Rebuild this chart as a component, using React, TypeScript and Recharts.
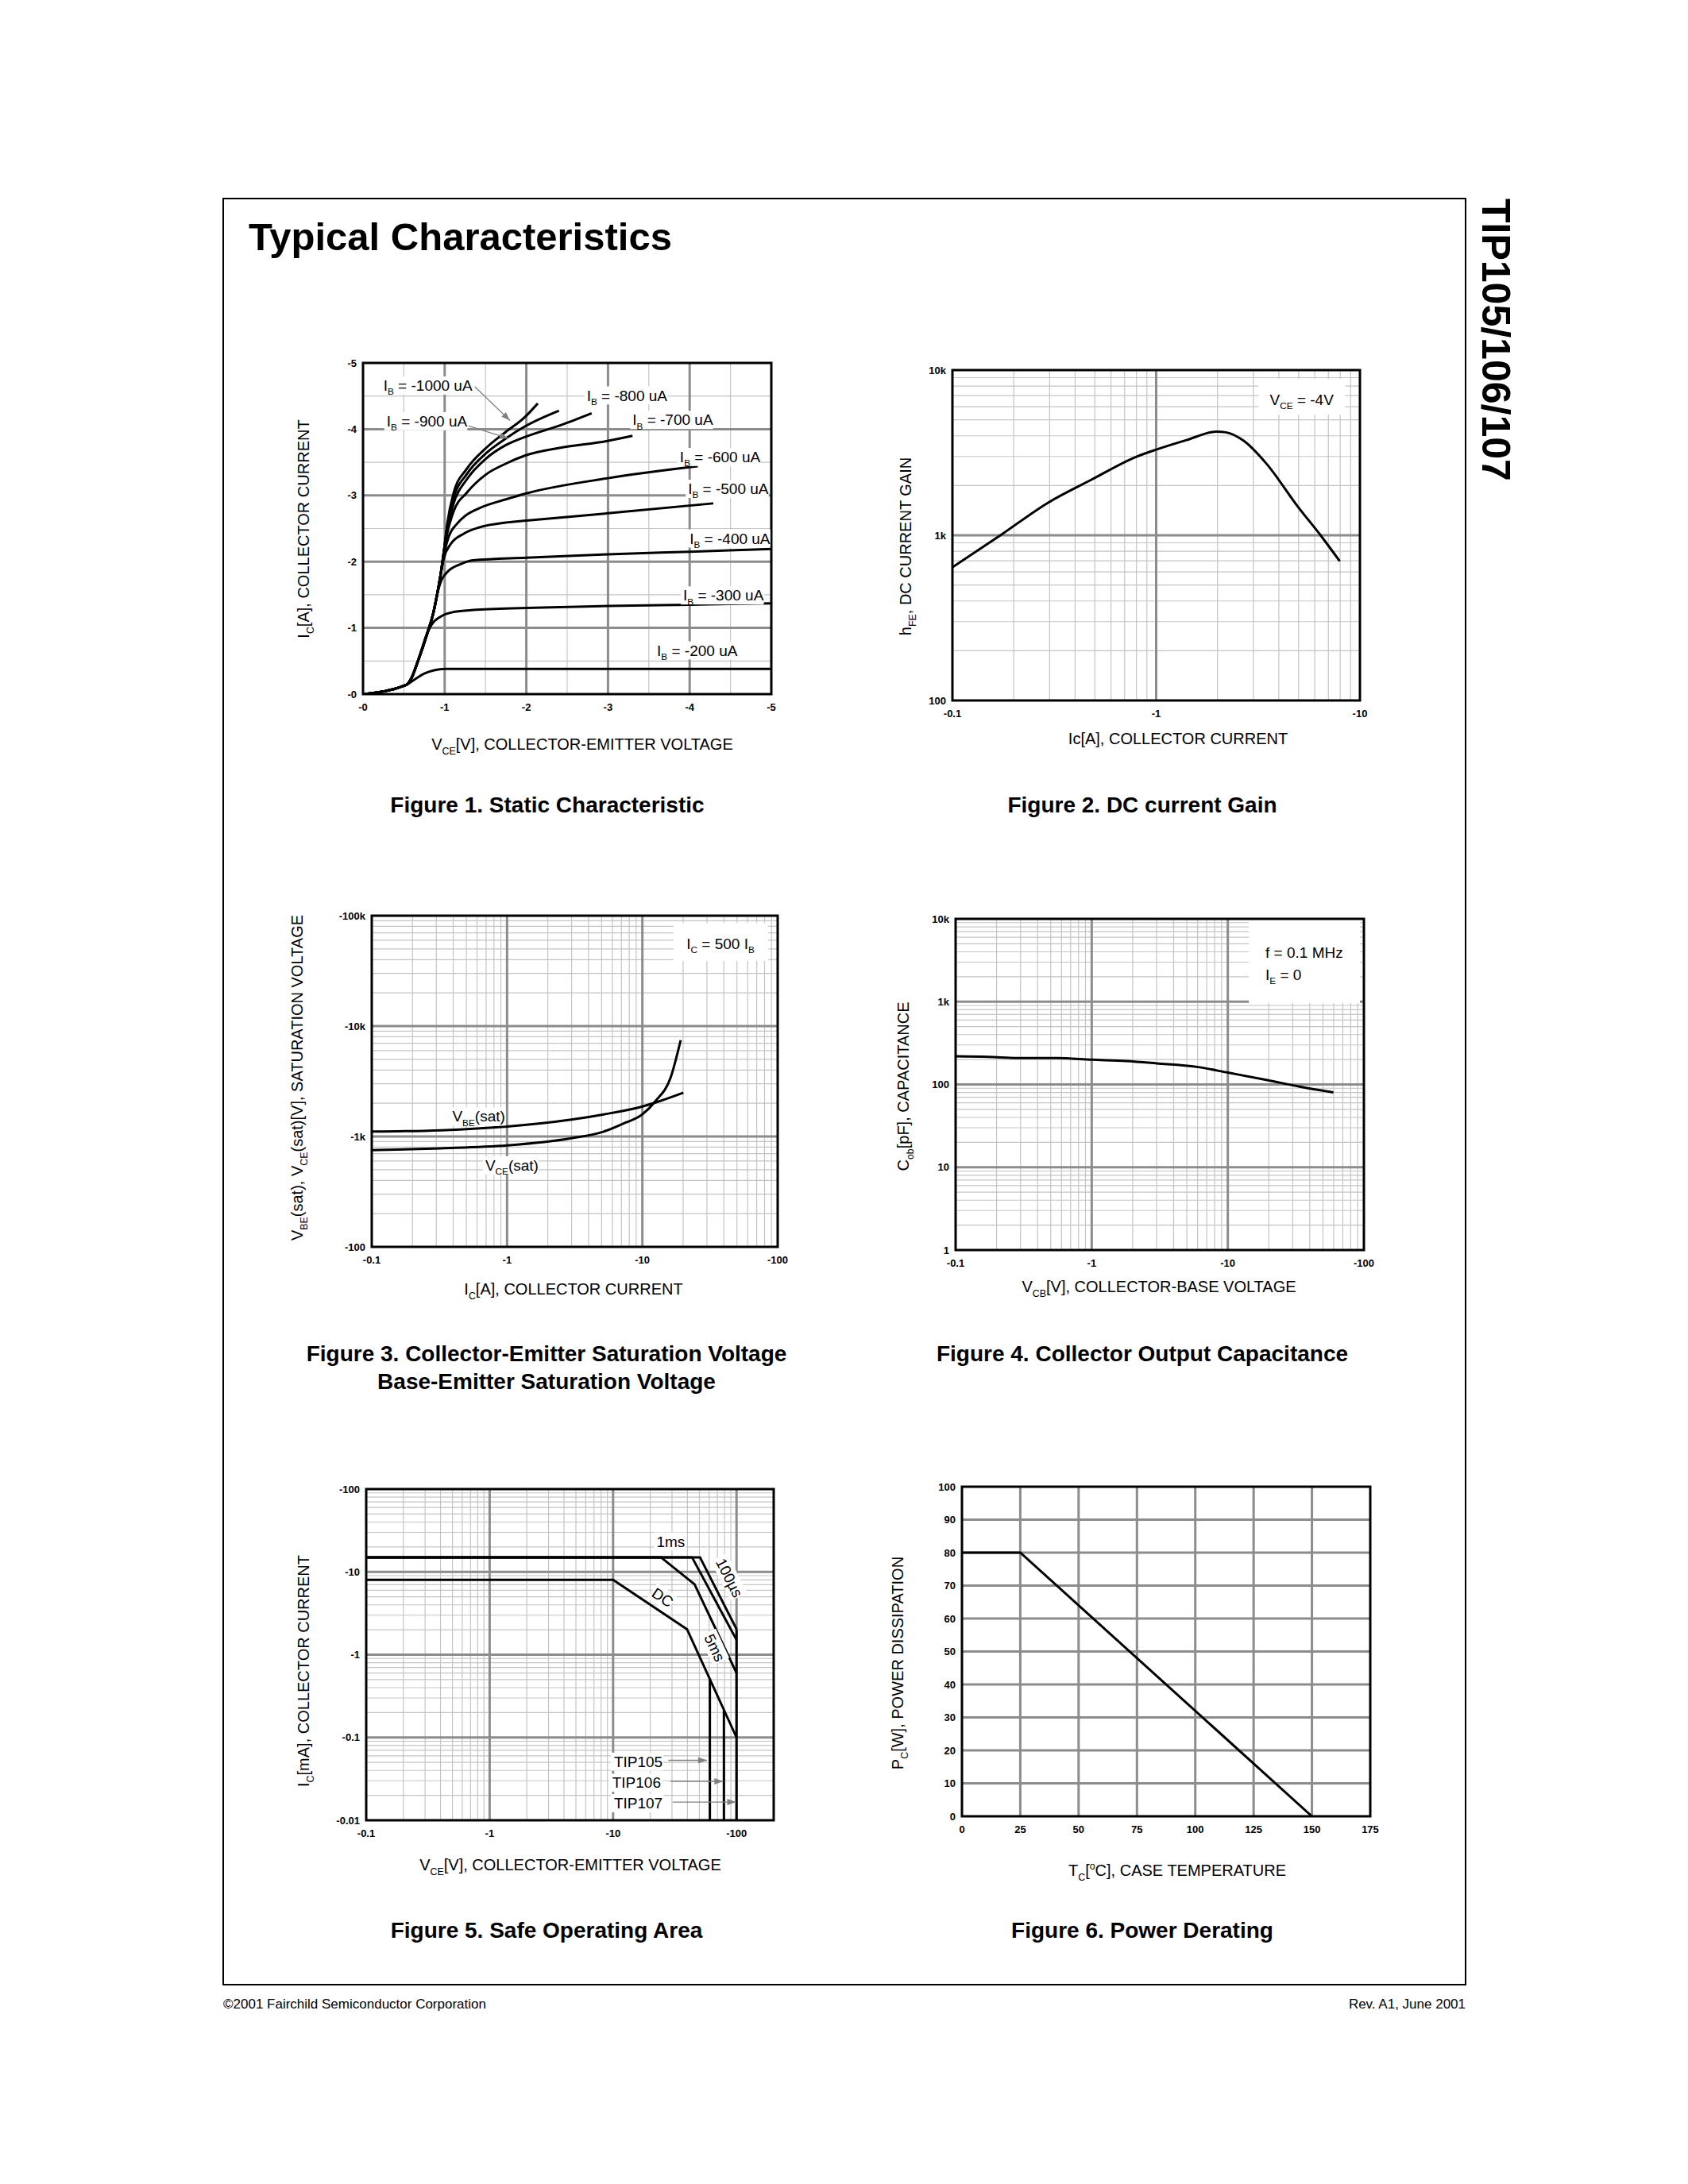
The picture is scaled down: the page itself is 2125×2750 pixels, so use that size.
import React from "react";
import {
  LineChart,
  Line,
  XAxis,
  YAxis,
  CartesianGrid,
  ReferenceLine,
  ReferenceDot,
  ReferenceArea,
} from "recharts";

const FONT = "'Liberation Sans', Arial, Helvetica, sans-serif";
const MAJOR = "#8c8c8c";
const MINOR = "#c4c4c4";

type Pt = [number, number];
const pts = (a: Pt[]) => a.map(([x, y]) => ({ x, y }));

// ---------- Figure 1: static characteristic, IC[A] vs VCE[V]
const ib200: Pt[] = [[0, 0], [0.53, 0.14], [0.63, 0.22], [0.75, 0.31], [0.87, 0.36], [1.0, 0.38], [1.6, 0.38], [5, 0.38]];
const ib300: Pt[] = [[0, 0], [0.53, 0.14], [0.6, 0.26], [0.67, 0.49], [0.79, 0.93], [0.84, 1.05], [0.95, 1.17], [1.11, 1.24], [1.35, 1.27], [2, 1.3], [3, 1.33], [4, 1.35], [5, 1.37]];
const ib400: Pt[] = [[0, 0], [0.53, 0.14], [0.6, 0.26], [0.67, 0.49], [0.79, 0.93], [0.86, 1.22], [0.91, 1.52], [0.96, 1.72], [1.03, 1.84], [1.19, 1.96], [1.35, 2.02], [2, 2.06], [3, 2.11], [4, 2.15], [5, 2.19]];
const ib500: Pt[] = [[0, 0], [0.53, 0.14], [0.6, 0.26], [0.67, 0.49], [0.79, 0.93], [0.86, 1.22], [0.91, 1.52], [0.95, 1.8], [0.99, 2.05], [1.07, 2.26], [1.23, 2.42], [1.43, 2.52], [1.75, 2.59], [2, 2.62], [3, 2.73], [4.29, 2.88]];
const ib600: Pt[] = [[0, 0], [0.53, 0.14], [0.6, 0.26], [0.67, 0.49], [0.79, 0.93], [0.86, 1.22], [0.91, 1.52], [0.95, 1.8], [0.99, 2.1], [1.05, 2.38], [1.15, 2.57], [1.25, 2.69], [1.43, 2.81], [1.75, 2.94], [2, 3.03], [3, 3.26], [4.1, 3.44]];
const ib700: Pt[] = [[0, 0], [0.53, 0.14], [0.6, 0.26], [0.67, 0.49], [0.79, 0.93], [0.86, 1.22], [0.91, 1.52], [0.95, 1.8], [0.99, 2.15], [1.03, 2.42], [1.11, 2.76], [1.27, 3.04], [1.51, 3.32], [1.75, 3.48], [1.98, 3.6], [2.42, 3.72], [2.98, 3.82], [3.3, 3.9]];
const ib800: Pt[] = [[0, 0], [0.53, 0.14], [0.6, 0.26], [0.67, 0.49], [0.79, 0.93], [0.86, 1.22], [0.91, 1.52], [0.95, 1.8], [0.99, 2.15], [1.03, 2.48], [1.11, 2.88], [1.27, 3.24], [1.51, 3.56], [1.75, 3.76], [1.98, 3.88], [2.42, 4.06], [2.8, 4.24]];
const ib900: Pt[] = [[0, 0], [0.53, 0.14], [0.6, 0.26], [0.67, 0.49], [0.79, 0.93], [0.86, 1.22], [0.91, 1.52], [0.95, 1.8], [0.99, 2.15], [1.03, 2.52], [1.11, 2.96], [1.27, 3.32], [1.51, 3.64], [1.75, 3.86], [1.98, 4.04], [2.4, 4.28]];
const ib1000: Pt[] = [[0, 0], [0.53, 0.14], [0.6, 0.26], [0.67, 0.49], [0.79, 0.93], [0.86, 1.22], [0.91, 1.52], [0.95, 1.8], [0.99, 2.15], [1.03, 2.56], [1.11, 3.04], [1.27, 3.4], [1.51, 3.72], [1.75, 3.96], [1.98, 4.18], [2.14, 4.39]];
const f1Series = [ib200, ib300, ib400, ib500, ib600, ib700, ib800, ib900, ib1000];
const f1Ticks = [0, 1, 2, 3, 4, 5];
const f1Labels = ["-0", "-1", "-2", "-3", "-4", "-5"];
const f1Minor = [0.5, 1.5, 2.5, 3.5, 4.5];
const f1Major = [1, 2, 3, 4];
const f1Notes = [
  { x: 0.25, y: 4.66, ib: "-1000" },
  { x: 0.29, y: 4.12, ib: "-900" },
  { x: 2.74, y: 4.51, ib: "-800" },
  { x: 3.3, y: 4.14, ib: "-700" },
  { x: 3.88, y: 3.58, ib: "-600" },
  { x: 3.98, y: 3.1, ib: "-500" },
  { x: 4.0, y: 2.35, ib: "-400" },
  { x: 3.92, y: 1.49, ib: "-300" },
  { x: 3.6, y: 0.66, ib: "-200" },
];
const f1Arrows = [
  { from: [1.37, 4.64], to: [1.8, 4.13], a: 44 },
  { from: [1.29, 4.05], to: [1.78, 3.86], a: 18 },
];

// ---------- Figure 2: DC current gain
const hfe: Pt[] = [[0.1, 640], [0.172, 1000], [0.296, 1580], [0.481, 2170], [0.8, 2990], [1.0, 3300], [1.41, 3770], [1.98, 4240], [2.2, 4200], [2.69, 3730], [3.47, 2720], [4.98, 1480], [6.41, 1000], [7.96, 697]];
const f2XTicks = [0.1, 1, 10];
const f2XLabels = ["-0.1", "-1", "-10"];
const f2YTicks = [100, 1000, 10000];
const f2YLabels = ["100", "1k", "10k"];

// ---------- Figure 3: saturation voltages [mV]
const vbeSat: Pt[] = [[0.1, 1107], [0.325, 1138], [1, 1230], [2.98, 1420], [5.18, 1585], [10, 1870], [12.5, 2032], [20.1, 2495]];
const vceSat: Pt[] = [[0.1, 752], [0.325, 781], [1, 830], [2.98, 963], [5.18, 1107], [7.2, 1306], [10, 1585], [12.5, 2090], [16.2, 3436], [19.2, 7450]];
const f3XTicks = [0.1, 1, 10, 100];
const f3XLabels = ["-0.1", "-1", "-10", "-100"];
const f3YTicks = [100, 1000, 10000, 100000];
const f3YLabels = ["-100", "-1k", "-10k", "-100k"];

// ---------- Figure 4: output capacitance
const cob: Pt[] = [[0.1, 219], [0.172, 216], [0.297, 208], [0.555, 208], [1, 199], [1.79, 192], [3, 180], [5.93, 163], [10, 139], [19.5, 113], [33.7, 94], [59.7, 80]];
const f4YTicks = [1, 10, 100, 1000, 10000];
const f4YLabels = ["1", "10", "100", "1k", "10k"];

// ---------- Figure 5: safe operating area
const soa100us: Pt[] = [[0.1, 15], [50.6, 15], [100, 2.03]];
const soa1ms: Pt[] = [[0.1, 15], [43.6, 15], [100, 1.51]];
const soa5ms: Pt[] = [[0.1, 15], [24.4, 15], [45.7, 7.08], [100, 0.6]];
const soaDc: Pt[] = [[0.1, 8], [10, 8], [39.7, 2.03], [100, 0.1]];
const tip105: Pt[] = [[60.8, 0.51], [60.8, 0.01]];
const tip106: Pt[] = [[79, 0.21], [79, 0.01]];
const tip107: Pt[] = [[100, 2.03], [100, 0.01]];
const f5XTicks = [0.1, 1, 10, 100];
const f5XLabels = ["-0.1", "-1", "-10", "-100"];
const f5YTicks = [0.01, 0.1, 1, 10, 100];
const f5YLabels = ["-0.01", "-0.1", "-1", "-10", "-100"];
const f5Arrows = [
  { from: [28, 0.053], to: [57.5, 0.053], a: 0 },
  { from: [29.2, 0.0295], to: [77.9, 0.0295], a: 0 },
  { from: [30.4, 0.0166], to: [99, 0.0166], a: 0 },
];

// ---------- Figure 6: power derating
const derating: Pt[] = [[0, 80], [25, 80], [150, 0]];
const f6XTicks = [0, 25, 50, 75, 100, 125, 150, 175];
const f6YTicks = [0, 10, 20, 30, 40, 50, 60, 70, 80, 90, 100];
const f6XGrid = [25, 50, 75, 100, 125, 150];
const f6YGrid = [10, 20, 30, 40, 50, 60, 70, 80, 90];

const minors = (lo: number, hi: number) => {
  const out: number[] = [];
  for (let d = lo; d < hi * 0.999; d *= 10)
    for (let k = 2; k <= 9; k++) out.push(+(d * k).toPrecision(6));
  return out;
};

// rough Arial advance widths (em), only used to size the white label boxes
const charW = (c: string) => {
  if (/[0-9]/.test(c)) return 0.556;
  if (c === " ") return 0.278;
  if (c === "=") return 0.584;
  if (c === "-") return 0.333;
  if (".,:;ilIj|".includes(c)) return 0.26;
  if ("()[]ft".includes(c)) return 0.31;
  if (c === "m" || c === "M") return 0.833;
  if (/[A-Z]/.test(c)) return 0.67;
  return 0.53;
};

// ---------- drawing helpers
type Part = [string, ("sub" | "sup")?];
type NoteProps = {
  cx?: number;
  cy?: number;
  parts: Part[];
  anchor?: "start" | "middle" | "end";
  size?: number;
  box?: boolean;
  angle?: number;
  bold?: boolean;
  color?: string;
};

function Note({ cx = 0, cy = 0, parts, anchor = "start", size = 19, box = false, angle = 0, bold = false, color = "#000" }: NoteProps) {
  const w = parts.reduce(
    (s, [t, m]) => s + t.split("").reduce((a, c) => a + charW(c), 0) * size * (m ? 0.62 : 1),
    0
  );
  const left = anchor === "start" ? cx : anchor === "end" ? cx - w : cx - w / 2;
  let off = 0;
  const spans = parts.map(([t, m], i) => {
    const target = m === "sub" ? size * 0.28 : m === "sup" ? -size * 0.42 : 0;
    const dy = target - off;
    off = target;
    return (
      <tspan key={i} dy={dy} fontSize={m ? size * 0.62 : size}>
        {t}
      </tspan>
    );
  });
  return (
    <g transform={angle ? `rotate(${angle} ${cx} ${cy})` : undefined}>
      {box && <rect x={left - 3} y={cy - size * 0.6} width={w + 4} height={size * 1.2} fill="#fff" />}
      <text
        x={cx}
        y={cy + size * 0.35}
        textAnchor={anchor}
        fontFamily={FONT}
        fontSize={size}
        fontWeight={bold ? 700 : 400}
        fill={color}
        style={{ whiteSpace: "pre" }}
      >
        {spans}
      </text>
    </g>
  );
}

const PL = 90;
const PT = 20;
const PR = 20;
const PB = 50;
type Box = { x: number; y: number; w: number; h: number };

function Panel({ box, children }: { box: Box; children: React.ReactNode }) {
  return (
    <div style={{ position: "absolute", left: box.x - PL, top: box.y - PT }}>
      <LineChart
        width={box.w + PL + PR}
        height={box.h + PT + PB}
        margin={{ top: PT, right: PR, bottom: 0, left: 0 }}
      >
        {children}
      </LineChart>
    </div>
  );
}

const TICK = { fontSize: 13, fontWeight: 700, fill: "#000", fontFamily: FONT };
const fmt = (ticks: number[], labels: string[]) => (v: number) => {
  const i = ticks.findIndex((t) => Math.abs(t - v) < t * 1e-6 + 1e-9);
  return i >= 0 ? labels[i] : "";
};

const xAxis = (domain: number[], ticks: number[], labels: string[], log: boolean) => (
  <XAxis
    key="xa"
    dataKey="x"
    type="number"
    scale={log ? "log" : "linear"}
    domain={domain}
    ticks={ticks}
    interval={0}
    tickFormatter={fmt(ticks, labels)}
    allowDataOverflow
    axisLine={false}
    tickLine={false}
    tickSize={0}
    tickMargin={12}
    height={PB}
    tick={TICK}
  />
);

const yAxis = (domain: number[], ticks: number[], labels: string[], log: boolean) => (
  <YAxis
    key="ya"
    type="number"
    scale={log ? "log" : "linear"}
    domain={domain}
    ticks={ticks}
    interval={0}
    tickFormatter={fmt(ticks, labels)}
    allowDataOverflow
    axisLine={false}
    tickLine={false}
    tickSize={0}
    tickMargin={8}
    width={PL}
    tick={TICK}
  />
);

const grid = (key: string, xs: number[], ys: number[], color: string, width: number) => (
  <CartesianGrid
    key={key}
    vertical={xs.length > 0}
    horizontal={ys.length > 0}
    verticalValues={xs}
    horizontalValues={ys}
    stroke={color}
    strokeWidth={width}
  />
);

const curve = (key: string, data: Pt[], type: "monotone" | "linear" = "monotone") => (
  <Line
    key={key}
    data={pts(data)}
    dataKey="y"
    type={type}
    stroke="#000"
    strokeWidth={3}
    dot={false}
    activeDot={false}
    isAnimationActive={false}
  />
);

const frame = (xd: number[], yd: number[]) => (
  <ReferenceArea
    key="frame"
    x1={xd[0]}
    x2={xd[1]}
    y1={yd[0]}
    y2={yd[1]}
    fill="none"
    stroke="#000"
    strokeWidth={3}
    ifOverflow="visible"
  />
);

const whiteBox = (key: string, x1: number, x2: number, y1: number, y2: number) => (
  <ReferenceArea key={key} x1={x1} x2={x2} y1={y1} y2={y2} fill="#fff" fillOpacity={1} stroke="none" ifOverflow="visible" />
);

const dotNote = (key: string, x: number, y: number, props: NoteProps) => (
  <ReferenceDot
    key={key}
    x={x}
    y={y}
    r={0}
    ifOverflow="visible"
    shape={(s: any) => <Note {...props} cx={s.cx} cy={s.cy} />}
  />
);

const arrow = (key: string, from: number[], to: number[], a: number) => [
  <ReferenceLine
    key={key + "l"}
    segment={[{ x: from[0], y: from[1] }, { x: to[0], y: to[1] }]}
    stroke="#808080"
    strokeWidth={1.3}
    ifOverflow="visible"
  />,
  <ReferenceDot
    key={key + "h"}
    x={to[0]}
    y={to[1]}
    r={0}
    ifOverflow="visible"
    shape={(s: any) => (
      <path d="M0,0 L-11,-4 L-11,4 Z" fill="#808080" transform={`translate(${s.cx},${s.cy}) rotate(${a})`} />
    )}
  />,
];

// ---------- layout
const BOX1: Box = { x: 457, y: 457, w: 514, h: 417 };
const BOX2: Box = { x: 1199, y: 466, w: 513, h: 416 };
const BOX3: Box = { x: 468, y: 1153, w: 511, h: 417 };
const BOX4: Box = { x: 1203, y: 1157, w: 514, h: 417 };
const BOX5: Box = { x: 461, y: 1875, w: 513, h: 417 };
const BOX6: Box = { x: 1211, y: 1872, w: 514, h: 415 };

export default function App() {
  return (
    <div
      style={{
        position: "absolute",
        left: 0,
        top: 0,
        width: 2125,
        height: 2750,
        background: "#fff",
        fontFamily: FONT,
        overflow: "hidden",
      }}
    >
      <svg width={2125} height={2750} style={{ position: "absolute", left: 0, top: 0 }}>
        <rect x={281} y={250} width={1564} height={2249} fill="none" stroke="#000" strokeWidth={2} />
        <Note cx={313} cy={298} parts={[["Typical Characteristics"]]} size={49} bold />
        <Note cx={1883} cy={250} parts={[["TIP105/106/107"]]} size={50} bold angle={90} />
        <Note cx={281} cy={2523} parts={[["©2001 Fairchild Semiconductor Corporation"]]} size={17} />
        <Note cx={1845} cy={2523} parts={[["Rev. A1, June 2001"]]} size={17} anchor="end" />

        <Note cx={689} cy={1013} parts={[["Figure 1. Static Characteristic"]]} size={28} bold anchor="middle" />
        <Note cx={1438} cy={1013} parts={[["Figure 2. DC current Gain"]]} size={28} bold anchor="middle" />
        <Note cx={688} cy={1704} parts={[["Figure 3. Collector-Emitter Saturation Voltage"]]} size={28} bold anchor="middle" />
        <Note cx={688} cy={1739} parts={[["Base-Emitter Saturation Voltage"]]} size={28} bold anchor="middle" />
        <Note cx={1438} cy={1704} parts={[["Figure 4. Collector Output Capacitance"]]} size={28} bold anchor="middle" />
        <Note cx={688} cy={2430} parts={[["Figure 5. Safe Operating Area"]]} size={28} bold anchor="middle" />
        <Note cx={1438} cy={2430} parts={[["Figure 6. Power Derating"]]} size={28} bold anchor="middle" />

        <Note cx={382} cy={666} angle={-90} anchor="middle" size={20} parts={[["I"], ["C", "sub"], ["[A], COLLECTOR CURRENT"]]} />
        <Note cx={733} cy={937} anchor="middle" size={20} parts={[["V"], ["CE", "sub"], ["[V], COLLECTOR-EMITTER VOLTAGE"]]} />
        <Note cx={1140} cy={688} angle={-90} anchor="middle" size={20} parts={[["h"], ["FE", "sub"], [", DC CURRENT GAIN"]]} />
        <Note cx={1483} cy={930} anchor="middle" size={20} parts={[["Ic[A], COLLECTOR CURRENT"]]} />
        <Note cx={374} cy={1357} angle={-90} anchor="middle" size={20} parts={[["V"], ["BE", "sub"], ["(sat), V"], ["CE", "sub"], ["(sat)[V], SATURATION VOLTAGE"]]} />
        <Note cx={722} cy={1623} anchor="middle" size={20} parts={[["I"], ["C", "sub"], ["[A], COLLECTOR CURRENT"]]} />
        <Note cx={1137} cy={1368} angle={-90} anchor="middle" size={20} parts={[["C"], ["ob", "sub"], ["[pF], CAPACITANCE"]]} />
        <Note cx={1459} cy={1620} anchor="middle" size={20} parts={[["V"], ["CB", "sub"], ["[V], COLLECTOR-BASE VOLTAGE"]]} />
        <Note cx={382} cy={2104} angle={-90} anchor="middle" size={20} parts={[["I"], ["C", "sub"], ["[mA], COLLECTOR CURRENT"]]} />
        <Note cx={718} cy={2348} anchor="middle" size={20} parts={[["V"], ["CE", "sub"], ["[V], COLLECTOR-EMITTER VOLTAGE"]]} />
        <Note cx={1130} cy={2094} angle={-90} anchor="middle" size={20} parts={[["P"], ["C", "sub"], ["[W], POWER DISSIPATION"]]} />
        <Note cx={1482} cy={2355} anchor="middle" size={20} parts={[["T"], ["C", "sub"], ["["], ["o", "sup"], ["C], CASE TEMPERATURE"]]} />
      </svg>

      {/* Figure 1 */}
      <Panel box={BOX1}>
        {[
          grid("gm", f1Minor, f1Minor, MINOR, 1.2),
          grid("gM", f1Major, f1Major, MAJOR, 3),
          xAxis([0, 5], f1Ticks, f1Labels, false),
          yAxis([0, 5], f1Ticks, f1Labels, false),
          ...f1Series.map((s, i) => curve(`c${i}`, s)),
          ...f1Arrows.flatMap((a, i) => arrow(`a${i}`, a.from, a.to, a.a)),
          ...f1Notes.map((n, i) =>
            dotNote(`n${i}`, n.x, n.y, { parts: [["I"], ["B", "sub"], [` = ${n.ib} uA`]], box: true })
          ),
          frame([0, 5], [0, 5]),
        ]}
      </Panel>

      {/* Figure 2 */}
      <Panel box={BOX2}>
        {[
          grid("gm", minors(0.1, 10), minors(100, 10000), MINOR, 1.2),
          grid("gM", [1], [1000], MAJOR, 3),
          xAxis([0.1, 10], f2XTicks, f2XLabels, true),
          yAxis([100, 10000], f2YTicks, f2YLabels, true),
          whiteBox("wb", 3.18, 8.47, 5380, 8850),
          curve("hfe", hfe),
          dotNote("n", 5.18, 6640, { parts: [["V"], ["CE", "sub"], [" = -4V"]], anchor: "middle" }),
          frame([0.1, 10], [100, 10000]),
        ]}
      </Panel>

      {/* Figure 3 */}
      <Panel box={BOX3}>
        {[
          grid("gm", minors(0.1, 100), minors(100, 100000), MINOR, 1.2),
          grid("gM", [1, 10], [1000, 10000], MAJOR, 3),
          xAxis([0.1, 100], f3XTicks, f3XLabels, true),
          yAxis([100, 100000], f3YTicks, f3YLabels, true),
          whiteBox("wb", 17, 85, 38900, 86100),
          curve("vbe", vbeSat),
          curve("vce", vceSat),
          dotNote("n1", 0.394, 1517, { parts: [["V"], ["BE", "sub"], ["(sat)"]], box: true }),
          dotNote("n2", 0.69, 548, { parts: [["V"], ["CE", "sub"], ["(sat)"]], box: true }),
          dotNote("n3", 37.8, 56000, { parts: [["I"], ["C", "sub"], [" = 500 I"], ["B", "sub"]], anchor: "middle" }),
          frame([0.1, 100], [100, 100000]),
        ]}
      </Panel>

      {/* Figure 4 */}
      <Panel box={BOX4}>
        {[
          grid("gm", minors(0.1, 100), minors(1, 10000), MINOR, 1.2),
          grid("gM", [1, 10], [10, 100, 1000], MAJOR, 3),
          xAxis([0.1, 100], f3XTicks, f3XLabels, true),
          yAxis([1, 10000], f4YTicks, f4YLabels, true),
          whiteBox("wb", 14.3, 93.5, 961, 9780),
          curve("cob", cob),
          dotNote("n1", 18.9, 3950, { parts: [["f = 0.1 MHz"]] }),
          dotNote("n2", 18.9, 2130, { parts: [["I"], ["E", "sub"], [" = 0"]] }),
          frame([0.1, 100], [1, 10000]),
        ]}
      </Panel>

      {/* Figure 5 */}
      <Panel box={BOX5}>
        {[
          grid("gm", minors(0.1, 100), minors(0.01, 100), MINOR, 1.2),
          grid("gM", [1, 10, 100], [0.1, 1, 10], MAJOR, 3),
          xAxis([0.1, 200], f5XTicks, f5XLabels, true),
          yAxis([0.01, 100], f5YTicks, f5YLabels, true),
          curve("us100", soa100us, "linear"),
          curve("ms1", soa1ms, "linear"),
          curve("ms5", soa5ms, "linear"),
          curve("dc", soaDc, "linear"),
          curve("t105", tip105, "linear"),
          curve("t106", tip106, "linear"),
          curve("t107", tip107, "linear"),
          ...f5Arrows.flatMap((a, i) => arrow(`a${i}`, a.from, a.to, a.a)),
          dotNote("l1", 29.3, 23.3, { parts: [["1ms"]], anchor: "middle", box: true }),
          dotNote("l2", 87.5, 8.5, { parts: [["100µs"]], anchor: "middle", box: true, angle: 63 }),
          dotNote("l3", 25.2, 4.9, { parts: [["DC"]], anchor: "middle", box: true, angle: 34 }),
          dotNote("l4", 66.5, 1.21, { parts: [["5ms"]], anchor: "middle", box: true, angle: 65 }),
          dotNote("t1", 25.2, 0.051, { parts: [["TIP105"]], anchor: "end", box: true }),
          dotNote("t2", 24.4, 0.0284, { parts: [["TIP106"]], anchor: "end", box: true }),
          dotNote("t3", 25.2, 0.0161, { parts: [["TIP107"]], anchor: "end", box: true }),
          frame([0.1, 200], [0.01, 100]),
        ]}
      </Panel>

      {/* Figure 6 */}
      <Panel box={BOX6}>
        {[
          grid("gM", f6XGrid, f6YGrid, MAJOR, 3),
          xAxis([0, 175], f6XTicks, f6XTicks.map(String), false),
          yAxis([0, 100], f6YTicks, f6YTicks.map(String), false),
          curve("pd", derating, "linear"),
          frame([0, 175], [0, 100]),
        ]}
      </Panel>
    </div>
  );
}
